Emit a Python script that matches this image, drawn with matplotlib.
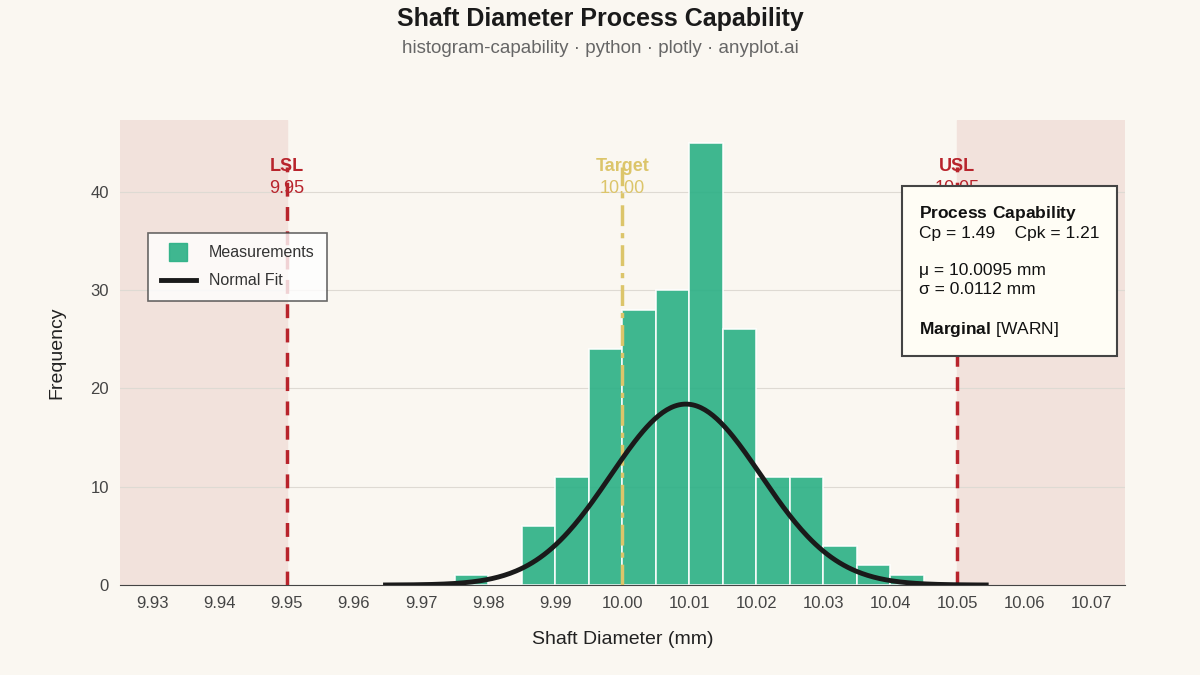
import numpy as np
import matplotlib.pyplot as plt
from matplotlib.lines import Line2D

#====================DATA====================
bin_edges = [9.975, 9.980, 9.985, 9.990, 9.995, 10.000, 10.005, 10.010, 10.015,
             10.020, 10.025, 10.030, 10.035, 10.040, 10.045]
counts = [1, 0, 6, 11, 24, 28, 30, 45, 26, 11, 11, 4, 2, 1]
lsl, target, usl = 9.95, 10.00, 10.05
mu, sigma = 10.0095, 0.0112
cp, cpk = 1.49, 1.21
fit_peak = 18.4
ticks = [9.93, 9.94, 9.95, 9.96, 9.97, 9.98, 9.99, 10.00, 10.01, 10.02, 10.03, 10.04, 10.05, 10.06, 10.07]

bg = '#faf7f1'
green = '#2ab085'
red = '#b8242c'
gold = '#dcc56a'

plt.rcParams['font.family'] = ['Liberation Sans', 'DejaVu Sans']
plt.rcParams['mathtext.fontset'] = 'custom'
plt.rcParams['mathtext.rm'] = 'Liberation Sans'
plt.rcParams['mathtext.bf'] = 'Liberation Sans:bold'
fig = plt.figure(figsize=(12, 6.75), dpi=100, facecolor=bg)
ax = fig.add_axes([0.1, 0.1333, 0.8375, 0.689])
ax.set_facecolor(bg)
xmin, xmax = 9.9251, 10.0750
ax.set_xlim(xmin, xmax)
ax.set_ylim(0, 47.3)

# out-of-spec regions
ax.axvspan(xmin, lsl, color='#f2e2dc', zorder=0)
ax.axvspan(usl, xmax, color='#f2e2dc', zorder=0)
ax.grid(axis='y', color='#dedad3', lw=0.8, zorder=0)

widths = np.diff(bin_edges)
ax.bar(bin_edges[:-1], counts, width=widths, align='edge', color=green, alpha=0.9,
       edgecolor='white', linewidth=1.2, zorder=2)

x = np.linspace(mu - 4 * sigma, mu + 4 * sigma, 300)
y = fit_peak * np.exp(-0.5 * ((x - mu) / sigma) ** 2)
ax.plot(x, y, color='#1a1a1a', lw=3.5, zorder=4)

ax.axvline(lsl, color=red, lw=2.5, ls=(0, (4, 3)), ymax=42.5 / 47.3, zorder=3)
ax.axvline(usl, color=red, lw=2.5, ls=(0, (4, 3)), ymax=42.5 / 47.3, zorder=3)
ax.axvline(target, color=gold, lw=2.5, ls=(0, (6, 2, 1.5, 2)), ymax=42.5 / 47.3, zorder=3)

for xv, name, val, c in [(lsl, 'LSL', '9.95', red), (target, 'Target', '10.00', gold), (usl, 'USL', '10.05', red)]:
    ax.text(xv, 41.7, name, color=c, fontsize=13, fontweight='bold', ha='center', va='bottom', zorder=5)
    ax.text(xv, 39.5, val, color=c, fontsize=13, ha='center', va='bottom', zorder=5)

ax.set_xticks(ticks)
ax.set_xticklabels(['%.2f' % t for t in ticks])
ax.set_yticks([0, 10, 20, 30, 40])
ax.tick_params(length=0, labelsize=12, colors='#444444', pad=8)
for s in ['top', 'right', 'left']:
    ax.spines[s].set_visible(False)
ax.spines['bottom'].set_color('#444444')
ax.set_xlabel('Shaft Diameter (mm)', fontsize=14, color='#222222', labelpad=14)
ax.set_ylabel('Frequency', fontsize=14, color='#222222', labelpad=18)

handles = [Line2D([], [], marker='s', ms=13, color=green, alpha=0.9, ls='none'),
           Line2D([], [], color='#1a1a1a', lw=3.5)]
leg = ax.legend(handles, ['Measurements', 'Normal Fit'], loc='upper left',
                bbox_to_anchor=(0.02, 0.775), fontsize=11.5, frameon=True, fancybox=False,
                borderpad=0.8, labelspacing=0.8, handlelength=2.2)
leg.get_frame().set_edgecolor('#444444')
leg.get_frame().set_facecolor('white')
leg.get_frame().set_linewidth(1.2)
for t in leg.get_texts():
    t.set_color('#333333')

box_txt = (r'$\bf{Process\ Capability}$' + '\nCp = %.2f    Cpk = %.2f\n\nμ = %.4f mm\nσ = %.4f mm\n\n' % (cp, cpk, mu, sigma)
           + r'$\bf{Marginal}$' + ' [WARN]')
ax.text(0.795, 0.82, box_txt, transform=ax.transAxes, fontsize=12.5, va='top', ha='left',
        color='#111111', linespacing=1.3, zorder=6,
        bbox=dict(boxstyle='square,pad=1.0', facecolor='#fffdf5', edgecolor='#444444', lw=1.5))

fig.text(0.5, 0.962, 'Shaft Diameter Process Capability', ha='center', fontsize=18,
         fontweight='bold', color='#1a1a1a')
fig.text(0.5, 0.922, 'histogram-capability · python · plotly · anyplot.ai', ha='center',
         fontsize=13.5, color='#666666')

fig.savefig('out.png', dpi=100, facecolor=bg)
